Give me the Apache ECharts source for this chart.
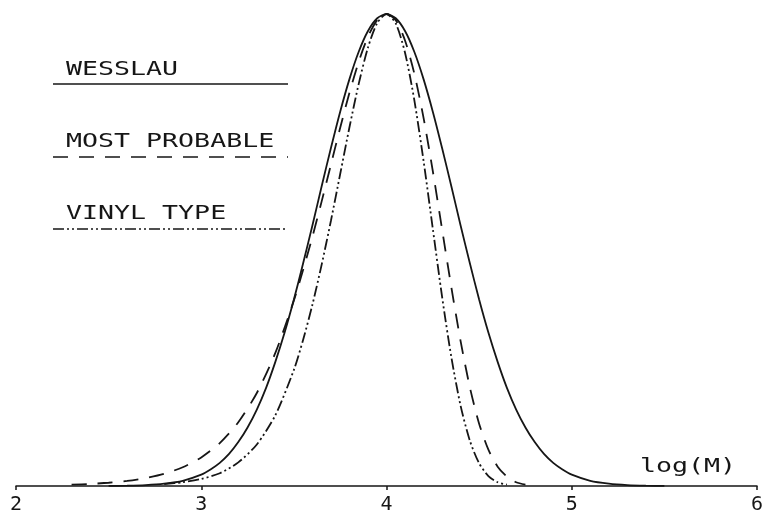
<!DOCTYPE html>
<html>
<head>
<meta charset="utf-8">
<script src="https://cdn.jsdelivr.net/npm/echarts@6/dist/echarts.min.js"></script>
<style>
  html, body { margin: 0; padding: 0; background: #fff; }
  #chart { width: 767px; height: 516px; }
</style>
</head>
<body>
<div id="chart"></div>
<script>
// Molecular weight distributions, normalised weight fraction vs log(M)

// Wesslau (log-normal) distribution
const wesslauLogM = [2.5, 2.6, 2.7, 2.8, 2.9, 3.0, 3.05, 3.1, 3.15, 3.2, 3.25, 3.3, 3.35, 3.4, 3.45, 3.5,
  3.55, 3.6, 3.65, 3.7, 3.75, 3.8, 3.85, 3.9, 3.95, 4.0, 4.05, 4.1, 4.15, 4.2, 4.25, 4.3, 4.35, 4.4,
  4.45, 4.5, 4.55, 4.6, 4.65, 4.7, 4.75, 4.8, 4.85, 4.9, 4.95, 5.0, 5.1, 5.2, 5.3, 5.4, 5.5];
const wesslauW = [0.0002, 0.0007, 0.002, 0.005, 0.011, 0.024, 0.035, 0.049, 0.068, 0.093, 0.124, 0.162, 0.208, 0.263, 0.325, 0.395,
  0.472, 0.552, 0.635, 0.716, 0.793, 0.862, 0.920, 0.964, 0.991, 1.0, 0.991, 0.964, 0.920, 0.862, 0.793, 0.716, 0.635, 0.552,
  0.472, 0.395, 0.325, 0.263, 0.208, 0.162, 0.124, 0.093, 0.068, 0.049, 0.035, 0.024, 0.011, 0.005, 0.002, 0.0007, 0.0002];

// Most probable distribution
const mostProbableLogM = [2.3, 2.4, 2.5, 2.6, 2.7, 2.8, 2.9, 3.0, 3.1, 3.2, 3.3, 3.4, 3.5, 3.55, 3.6, 3.65,
  3.7, 3.75, 3.8, 3.85, 3.9, 3.95, 4.0, 4.05, 4.1, 4.15, 4.2, 4.25, 4.3, 4.35, 4.4, 4.45, 4.5, 4.55,
  4.6, 4.65, 4.7, 4.75];
const mostProbableW = [0.0028, 0.0044, 0.0069, 0.0108, 0.0168, 0.0259, 0.0398, 0.0605, 0.091, 0.135, 0.197, 0.282, 0.393, 0.458, 0.528, 0.603,
  0.681, 0.759, 0.833, 0.899, 0.952, 0.987, 1.0, 0.987, 0.944, 0.874, 0.780, 0.667, 0.544, 0.421, 0.307, 0.209, 0.132, 0.077,
  0.041, 0.020, 0.008, 0.003];

// Vinyl type distribution
const vinylLogM = [2.8, 2.9, 3.0, 3.1, 3.2, 3.3, 3.4, 3.5, 3.55, 3.6, 3.65, 3.7, 3.75, 3.8, 3.85, 3.9,
  3.95, 4.0, 4.05, 4.1, 4.15, 4.2, 4.25, 4.3, 4.35, 4.4, 4.45, 4.5, 4.55, 4.6, 4.65];
const vinylW = [0.004, 0.008, 0.015, 0.027, 0.050, 0.088, 0.150, 0.246, 0.310, 0.384, 0.469, 0.562, 0.661, 0.760, 0.852, 0.929,
  0.981, 1.0, 0.980, 0.918, 0.818, 0.689, 0.545, 0.401, 0.273, 0.170, 0.096, 0.048, 0.021, 0.008, 0.003];

const xTicks = [2, 3, 4, 5, 6];
const legendNames = ['WESSLAU', 'MOST PROBABLE', 'VINYL TYPE'];
const axisTitle = 'log(M)';

const ink = '#161616';
const plotFont = '"DejaVu Sans Mono", "Liberation Mono", monospace';

function pairs(xs, ys) { return xs.map((x, i) => [x, ys[i]]); }

const chart = echarts.init(document.getElementById('chart'), null, { renderer: 'canvas' });

const dashStyles = ['solid', [15, 11], [11, 3, 2, 3, 2, 3]];

// legend: caption above a sample of each line style
const legendGraphics = [];
const captionY = [70, 142, 214];
const sampleY = [84, 157, 229];
legendNames.forEach((name, i) => {
  legendGraphics.push({
    type: 'text', x: 66, y: captionY[i], scaleX: 1.4,
    style: { text: name, x: 0, y: 0, fill: ink, font: '19px ' + plotFont, verticalAlign: 'middle' }
  });
  legendGraphics.push({
    type: 'line',
    shape: { x1: 53, y1: sampleY[i], x2: 288, y2: sampleY[i] },
    style: { stroke: ink, lineWidth: 1.6, lineDash: dashStyles[i] === 'solid' ? null : dashStyles[i] }
  });
});
legendGraphics.push({
  type: 'text', x: 640, y: 467, scaleX: 1.4,
  style: { text: axisTitle, x: 0, y: 0, fill: ink, font: '19px ' + plotFont, verticalAlign: 'middle' }
});

function curve(name, xs, ys, dash) {
  return {
    name: name,
    type: 'line',
    data: pairs(xs, ys),
    smooth: 0.25,
    showSymbol: false,
    clip: false,
    lineStyle: { color: ink, width: 1.8, type: dash },
    emphasis: { disabled: true }
  };
}

chart.setOption({
  animation: false,
  backgroundColor: '#ffffff',
  grid: { left: 16, right: 10, top: 14, bottom: 30, containLabel: false },
  xAxis: {
    type: 'value',
    min: xTicks[0],
    max: xTicks[xTicks.length - 1],
    interval: 1,
    axisLine: { show: true, lineStyle: { color: ink, width: 1.5 } },
    axisTick: { show: true, length: 4, lineStyle: { color: ink, width: 1.5 } },
    splitLine: { show: false },
    axisLabel: {
      color: ink, fontSize: 20, fontFamily: plotFont, margin: 9,
      formatter: v => xTicks.includes(v) ? String(v) : ''
    }
  },
  yAxis: { type: 'value', min: 0, max: 1, show: false },
  series: [
    curve(legendNames[0], wesslauLogM, wesslauW, 'solid'),
    curve(legendNames[1], mostProbableLogM, mostProbableW, dashStyles[1]),
    curve(legendNames[2], vinylLogM, vinylW, dashStyles[2])
  ],
  graphic: legendGraphics
});
</script>
</body>
</html>
